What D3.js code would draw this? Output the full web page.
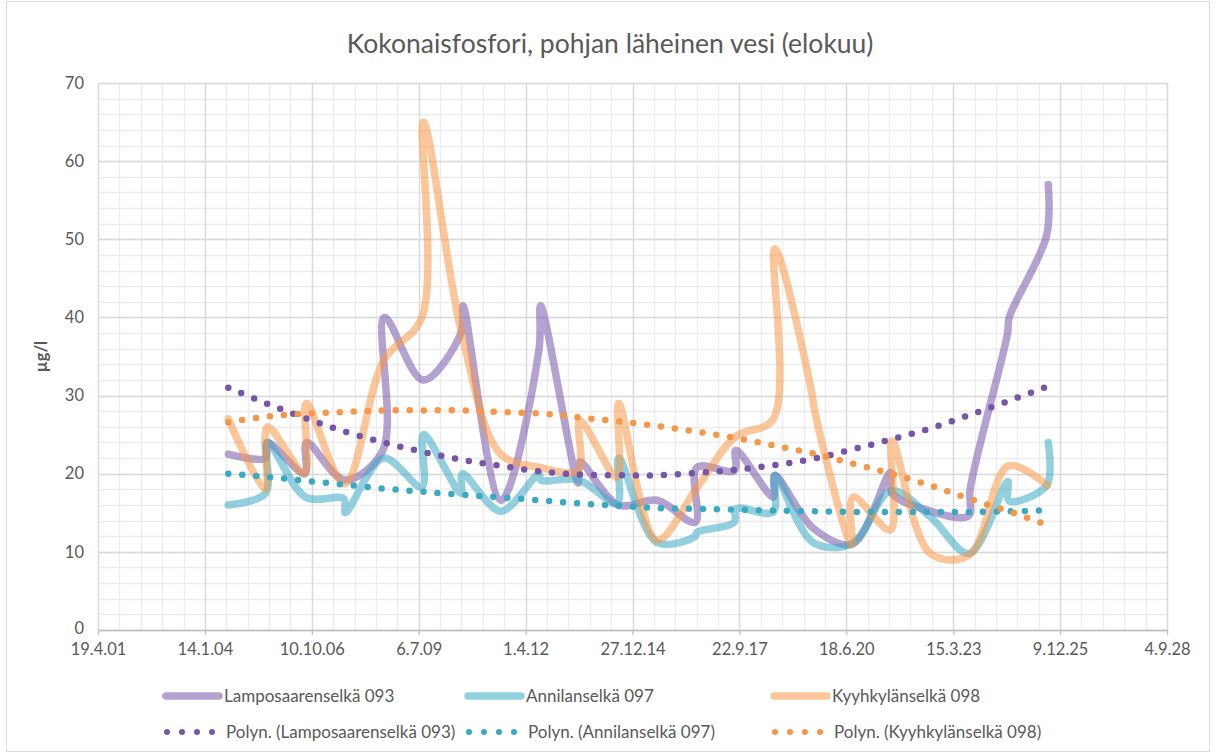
<!DOCTYPE html>
<html><head><meta charset="utf-8">
<script src="https://cdn.jsdelivr.net/npm/d3@7"></script>
<style>
body{margin:0;background:#fff}
svg{display:block}
text{font-family:Lato,"Open Sans",sans-serif;fill:#595959}
</style>
</head><body>
<svg id="chart" width="1217" height="756"></svg>
<script>
// ---------- DATA ----------
const chartTitle = "Kokonaisfosfori, pohjan läheinen vesi (elokuu)";
const yAxisTitle = "µg/l";
const seriesNames = ["Lamposaarenselkä 093", "Annilanselkä 097", "Kyyhkylänselkä 098"];
const trendNames = ["Polyn. (Lamposaarenselkä 093)", "Polyn. (Annilanselkä 097)", "Polyn. (Kyyhkylänselkä 098)"];

const xTickDates = ["2001-04-19","2004-01-14","2006-10-10","2009-07-06","2012-04-01","2014-12-27","2017-09-22","2020-06-18","2023-03-15","2025-12-09","2028-09-04"];
const xTickLabels = ["19.4.01","14.1.04","10.10.06","6.7.09","1.4.12","27.12.14","22.9.17","18.6.20","15.3.23","9.12.25","4.9.28"];
const yTickValues = [0,10,20,30,40,50,60,70];

const lampDates = ["2004-08-20","2005-08-03","2005-08-20","2006-08-05","2006-08-22","2007-08-12","2008-08-05","2008-08-20","2009-08-15","2010-08-05","2010-08-25","2011-08-15","2012-08-05","2012-08-20","2013-08-05","2013-08-20","2014-08-15","2015-08-15","2016-08-05","2016-08-20","2017-08-05","2017-08-20","2018-08-05","2018-08-20","2019-08-15","2020-08-15","2021-08-05","2021-08-20","2022-08-15","2023-08-05","2023-08-20","2024-08-05","2024-08-20","2025-08-05","2025-08-20"];
const lampValues = [22.5,22.0,24.0,20.0,24.0,19.2,23.0,40.0,32.0,38.0,41.5,16.6,36.0,41.5,18.8,21.5,16.0,16.6,13.8,20.8,20.4,23.0,17.0,19.8,13.0,11.0,20.2,17.5,15.2,14.6,18.0,38.0,40.0,50.5,57.0];

const annDates = ["2004-08-20","2005-08-03","2005-08-20","2006-08-12","2007-08-05","2007-08-20","2008-08-12","2009-08-05","2009-08-20","2010-08-05","2010-08-20","2011-08-12","2012-08-05","2012-08-20","2013-08-12","2014-08-05","2014-08-20","2015-08-12","2016-08-05","2016-08-20","2017-08-05","2017-08-20","2018-08-05","2018-08-20","2019-08-12","2020-08-12","2021-08-12","2022-08-12","2023-08-12","2024-08-05","2024-08-20","2025-08-05","2025-08-20"];
const annValues = [16.0,17.5,24.0,17.0,16.8,15.0,22.0,18.3,25.0,17.5,20.0,15.2,20.0,19.2,19.2,16.2,22.0,11.2,12.0,12.5,13.8,15.5,15.1,19.8,11.2,11.1,17.8,14.5,9.8,19.0,16.5,18.5,24.0];

const kyyDates = ["2004-08-20","2005-08-03","2005-08-20","2006-08-05","2006-08-20","2007-08-12","2008-08-12","2009-08-05","2009-08-20","2010-08-12","2011-08-12","2012-08-12","2013-08-05","2013-08-20","2014-08-05","2014-08-20","2015-08-12","2016-08-12","2017-08-12","2018-08-05","2018-08-20","2019-08-05","2019-08-20","2020-08-05","2020-08-20","2021-08-05","2021-08-20","2022-08-12","2023-08-12","2024-08-12","2025-08-12"];
const kyyValues = [27.0,18.0,26.0,20.0,29.0,18.7,34.5,40.0,65.0,38.0,22.5,20.8,20.4,26.8,19.5,29.0,11.5,18.0,24.7,27.0,48.8,30.0,28.5,10.9,17.0,12.8,24.2,9.8,9.6,21.0,18.5];

const trendDates = ["2004-08-20","2005-08-12","2006-08-12","2007-08-12","2008-08-12","2009-08-12","2010-08-12","2011-08-12","2012-08-12","2013-08-12","2014-08-12","2015-08-12","2016-08-12","2017-08-12","2018-08-12","2019-08-12","2020-08-12","2021-08-12","2022-08-12","2023-08-12","2024-08-12","2025-08-20"];
const lampTrend = [31.0,29.0,27.1,25.4,24.0,22.8,21.8,21.0,20.3,19.9,19.8,19.8,20.1,20.5,21.1,21.9,23.1,24.4,25.8,27.5,29.3,31.2];
const annTrend  = [20.0,19.6,19.1,18.6,18.1,17.7,17.3,17.0,16.6,16.2,15.9,15.6,15.5,15.4,15.3,15.2,15.1,15.1,15.1,15.1,15.2,15.3];
const kyyTrend  = [26.6,27.3,27.7,27.9,28.1,28.1,28.1,27.9,27.7,27.2,26.7,26.1,25.4,24.6,23.6,22.6,21.3,20.0,18.5,16.8,15.2,13.4];

// ---------- STYLE ----------
const colors = ["#7756a9", "#3aaac4", "#f69747"];
const parse = d3.utcParse("%Y-%m-%d");

const svg = d3.select("#chart");
const plot = {left: 98, right: 1167, top: 83, bottom: 630};

// chart border
svg.append("rect").attr("x", 6.5).attr("y", 1.5).attr("width", 1203).attr("height", 750)
  .attr("fill", "#fff").attr("stroke", "#d9d9d9").attr("stroke-width", 1);

const x = d3.scaleUtc().domain([parse(xTickDates[0]), parse(xTickDates[xTickDates.length-1])]).range([plot.left, plot.right]);
const y = d3.scaleLinear().domain([0, 70]).range([plot.bottom, plot.top]);

// minor gridlines
const minorX = [];
for (let d = parse(xTickDates[0]); d <= x.domain()[1]; d = d3.utcDay.offset(d, 200)) minorX.push(d);
const minorY = d3.range(0, 70.001, 2);
const grid = svg.append("g");
grid.selectAll(".mx").data(minorX).join("line")
  .attr("x1", d => Math.round(x(d)) + 0.5).attr("x2", d => Math.round(x(d)) + 0.5)
  .attr("y1", plot.top).attr("y2", plot.bottom).attr("stroke", "#ececec").attr("stroke-width", 1.3);
grid.selectAll(".my").data(minorY).join("line")
  .attr("y1", d => Math.round(y(d)) + 0.5).attr("y2", d => Math.round(y(d)) + 0.5)
  .attr("x1", plot.left).attr("x2", plot.right).attr("stroke", "#ececec").attr("stroke-width", 1.3);
// major gridlines
grid.selectAll(".Mx").data(xTickDates.map(parse)).join("line")
  .attr("x1", d => Math.round(x(d)) + 0.5).attr("x2", d => Math.round(x(d)) + 0.5)
  .attr("y1", plot.top).attr("y2", plot.bottom).attr("stroke", "#d9d9d9").attr("stroke-width", 1.3);
grid.selectAll(".My").data(yTickValues).join("line")
  .attr("y1", d => Math.round(y(d)) + 0.5).attr("y2", d => Math.round(y(d)) + 0.5)
  .attr("x1", plot.left).attr("x2", plot.right).attr("stroke", "#d9d9d9").attr("stroke-width", 1.3);

// x axis
const xAxis = d3.axisBottom(x).tickValues(xTickDates.map(parse))
  .tickFormat((d, i) => xTickLabels[i]).tickSize(5).tickSizeOuter(0).tickPadding(8);
const gx = svg.append("g").attr("transform", `translate(0,${plot.bottom})`).call(xAxis);
gx.select(".domain").attr("stroke", "#bfbfbf").attr("stroke-width", 1.3);
gx.selectAll(".tick line").attr("stroke", "#bfbfbf").attr("stroke-width", 1.3);
gx.selectAll(".tick text").attr("font-size", 16.5).attr("fill", "#595959").style("font-family", "Lato");

// y axis labels
const yAxis = d3.axisLeft(y).tickValues(yTickValues).tickSize(0).tickPadding(14);
const gy = svg.append("g").attr("transform", `translate(${plot.left},0)`).call(yAxis);
gy.select(".domain").remove();
gy.selectAll(".tick text").attr("font-size", 16.5).attr("fill", "#595959").style("font-family", "Lato");
gy.selectAll(".tick").filter(d => d === 0).select("text").attr("dy", "0.2em");

// y axis title
svg.append("text").attr("transform", `translate(47,${(plot.top + plot.bottom) / 2}) rotate(-90)`)
  .attr("text-anchor", "middle").attr("font-size", 16.5).attr("font-weight", "bold").text(yAxisTitle);

// title
svg.append("text").attr("x", 610).attr("y", 53).attr("text-anchor", "middle")
  .attr("font-size", 26.5).text(chartTitle);

// data lines
const series = [
  {dates: lampDates, values: lampValues},
  {dates: annDates, values: annValues},
  {dates: kyyDates, values: kyyValues}
];
const trends = [lampTrend, annTrend, kyyTrend];

const line = d3.line().x(d => x(d[0])).y(d => y(d[1])).curve(d3.curveCatmullRom.alpha(0.5));
const gl = svg.append("g");
series.forEach((s, i) => {
  const pts = s.dates.map((d, k) => [parse(d), s.values[k]]);
  gl.append("path").datum(pts).attr("d", line)
    .attr("fill", "none").attr("stroke", colors[i]).attr("stroke-opacity", 0.55)
    .attr("stroke-width", 7.5).attr("stroke-linejoin", "round").attr("stroke-linecap", "round");
});
const tline = d3.line().x(d => x(d[0])).y(d => y(d[1])).curve(d3.curveCatmullRom);
trends.forEach((t, i) => {
  const pts = trendDates.map((d, k) => [parse(d), t[k]]);
  gl.append("path").datum(pts).attr("d", tline)
    .attr("fill", "none").attr("stroke", colors[i])
    .attr("stroke-width", 6.5).attr("stroke-linecap", "round").attr("stroke-dasharray", "0 14");
});

// legend
const legX = [163, 465, 771];
const legRows = [696, 732];
const lg = svg.append("g");
seriesNames.forEach((n, i) => {
  lg.append("line").attr("x1", legX[i] + 3).attr("x2", legX[i] + 56).attr("y1", legRows[0]).attr("y2", legRows[0])
    .attr("stroke", colors[i]).attr("stroke-opacity", 0.55).attr("stroke-width", 7.5).attr("stroke-linecap", "round");
  lg.append("text").attr("x", legX[i] + 61).attr("y", legRows[0]).attr("dy", "0.35em")
    .attr("font-size", 17).text(n);
});
trendNames.forEach((n, i) => {
  lg.append("line").attr("x1", legX[i] + 4).attr("x2", legX[i] + 52).attr("y1", legRows[1]).attr("y2", legRows[1])
    .attr("stroke", colors[i]).attr("stroke-width", 6).attr("stroke-linecap", "round").attr("stroke-dasharray", "0 15");
  lg.append("text").attr("x", legX[i] + 63).attr("y", legRows[1]).attr("dy", "0.35em")
    .attr("font-size", 17).text(n);
});
</script>
</body></html>
